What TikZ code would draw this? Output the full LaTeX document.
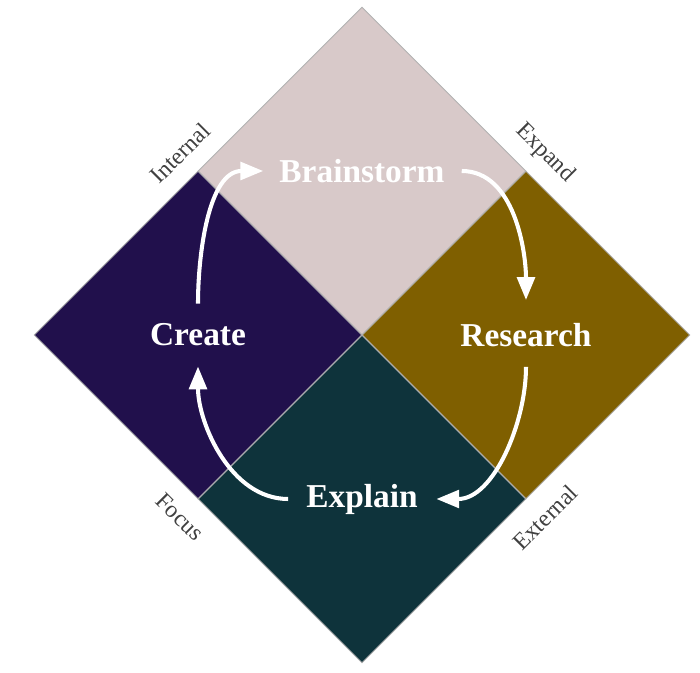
\documentclass[tikz,border=0pt]{standalone}
\usepackage{fontspec}
\setmainfont{Liberation Serif}
\usetikzlibrary{arrows.meta,shapes.geometric}

\definecolor{brainfill}{HTML}{D8C9C9}
\definecolor{researchfill}{HTML}{7F5F00}
\definecolor{explainfill}{HTML}{0E333B}
\definecolor{createfill}{HTML}{21104C}
\definecolor{sidegray}{HTML}{404040}

\begin{document}
\begin{tikzpicture}[
  >={Triangle[length=13pt, width=10pt]},
  quad/.style={diamond, aspect=1, draw=gray!60, line width=0.5pt, inner sep=0pt, minimum width=6.56cm, minimum height=6.56cm},
  lab/.style={font=\fontsize{19}{22}\selectfont\bfseries, text=white},
  side/.style={font=\fontsize{13.5}{16}\selectfont, text=sidegray},
  flow/.style={->, white, line width=2.3pt}
]
\useasboundingbox (-7.24,-6.76) rectangle (6.76,6.70);

% Quadrants
\node[quad, fill=brainfill] (qtop) at (0,3.28) {};
\node[quad, fill=researchfill] (qright) at (3.28,0) {};
\node[quad, fill=explainfill] (qbottom) at (0,-3.28) {};
\node[quad, fill=createfill] (qleft) at (-3.28,0) {};

% Stage labels
\node[lab] (brain) at (qtop) {Brainstorm};
\node[lab] (research) at (qright) {Research};
\node[lab] (explain) at (qbottom) {Explain};
\node[lab] (create) at (qleft) {Create};

% Side labels
\node[side, rotate=45] (internal) at (-3.64,3.64) {Internal};
\node[side, rotate=-45] (expand) at (3.66,3.64) {Expand};
\node[side, rotate=-45] (focus) at (-3.64,-3.64) {Focus};
\node[side, rotate=45] (external) at (3.66,-3.65) {External};

% Cycle arrows
\draw[flow, shorten <=0.22cm, shorten >=0.34cm] (brain) to[out=0, in=90] (research);
\draw[flow, shorten <=0.28cm, shorten >=0.25cm] (research) to[out=-90, in=0] (explain);
\draw[flow, shorten <=0.24cm, shorten >=0.28cm] (explain) to[out=180, in=-90] (create);
\draw[flow, shorten <=0.28cm, shorten >=0.2cm] (create) to[out=90, in=180] (brain);
\end{tikzpicture}
\end{document}
